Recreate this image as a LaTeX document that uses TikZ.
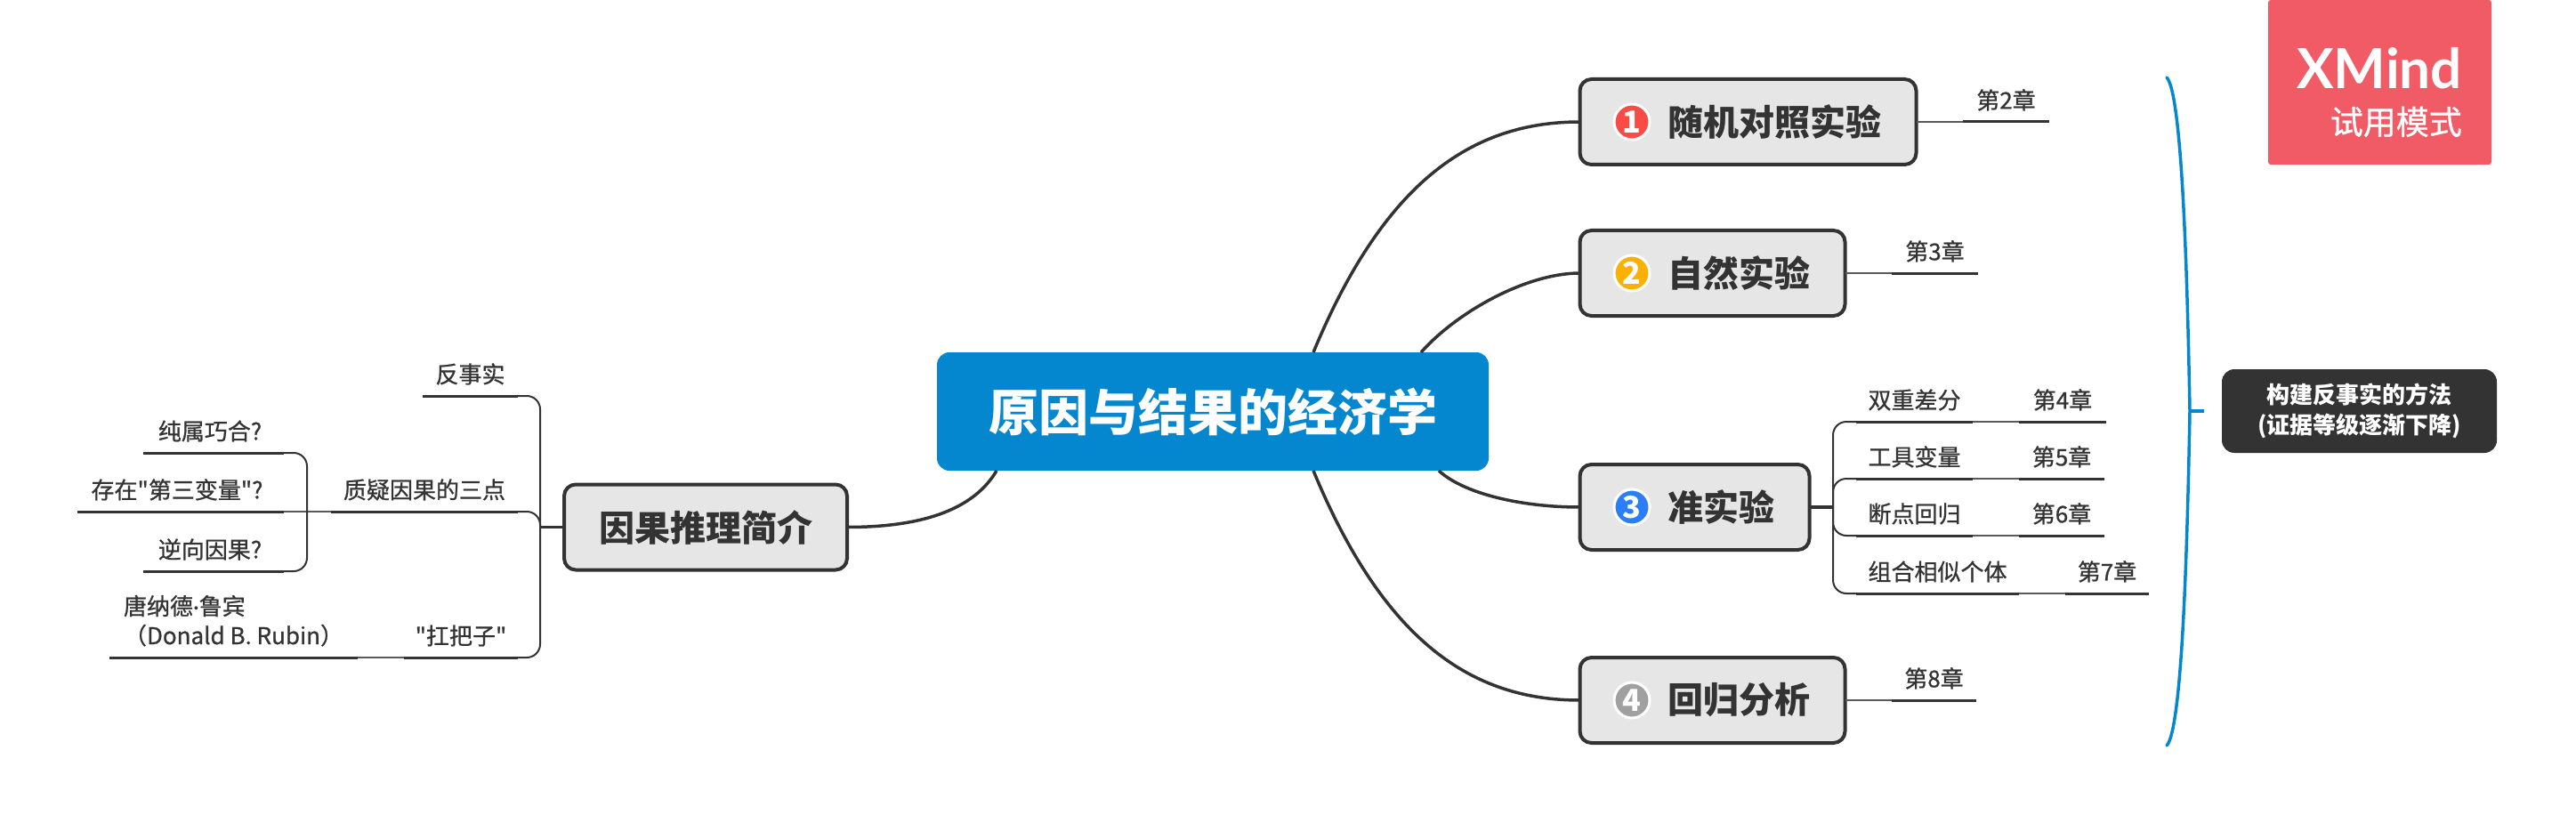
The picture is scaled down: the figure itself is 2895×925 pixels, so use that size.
\documentclass[tikz,border=0pt]{standalone}
\usepackage{fontspec}
\setmainfont[Ligatures=TeXOff,UprightFeatures={FakeBold=0.8}]{Noto Sans CJK SC}
\newfontfamily\logofont[Ligatures=TeXOff]{Lato}
\usetikzlibrary{positioning}
\definecolor{inkgray}{HTML}{333333}
\definecolor{boxgray}{HTML}{E6E6E6}
\definecolor{rootblue}{HTML}{0587D0}
\definecolor{trialred}{HTML}{F05B66}
\definecolor{twiggray}{HTML}{5A5A5A}
\definecolor{badgered}{HTML}{FB4B44}
\definecolor{badgeorange}{HTML}{FBB004}
\definecolor{badgeblue}{HTML}{2A7FF8}
\definecolor{badgegray}{HTML}{A0A0A0}
\newcommand{\fsz}[1]{\fontsize{#1}{#1}\selectfont}

\begin{document}
\begin{tikzpicture}[x=1pt,y=-1pt,text=inkgray,
    root node/.style={rectangle,rounded corners=14pt,fill=rootblue,text=white,font=\fsz{56}\bfseries,minimum height=133pt,inner xsep=58pt,inner ysep=0pt,outer sep=0pt},
    main node/.style={rectangle,rounded corners=13pt,draw=inkgray,line width=4pt,fill=boxgray,font=\fsz{40}\bfseries,minimum height=96pt,inner xsep=39pt,inner ysep=0pt,outer sep=0pt},
    badge/.style={circle,draw=white,line width=3pt,text=white,font=\fsz{34}\bfseries,minimum size=40pt,inner sep=0pt},
    leaf/.style={anchor=south,font=\fsz{26},inner xsep=0pt,inner ysep=12.5pt,outer sep=0pt},
    underline/.style={line width=3pt,draw=inkgray},
    trunk/.style={line width=3.5pt,draw=inkgray},
    stem/.style={line width=3.5pt,draw=inkgray},
    twig/.style={line width=2pt,draw=inkgray,rounded corners=15pt},
    link/.style={line width=2pt,draw=twiggray},
    bracket/.style={line width=3.5pt,draw=rootblue,line cap=round}]

    \useasboundingbox (0,0) rectangle (2895,925);

    % centre and main topics
    \node[root node] (root) at (1363,462.5) {原因与结果的经济学};
    \node[main node,anchor=east] (intro) at (952,592.5) {因果推理简介};
    \node[main node,anchor=west] (rct) at (1775.5,137) {\hspace*{60pt}随机对照实验};
    \node[main node,anchor=west] (nat) at (1775.5,307) {\hspace*{60pt}自然实验};
    \node[main node,anchor=west] (quasi) at (1775.5,570) {\hspace*{60pt}准实验};
    \node[main node,anchor=west] (reg) at (1775.5,787) {\hspace*{60pt}回归分析};

    \node[badge,fill=badgered] (b1) at (1834,137) {1};
    \node[badge,fill=badgeorange] (b2) at (1834,307) {2};
    \node[badge,fill=badgeblue] (b3) at (1834,570) {3};
    \node[badge,fill=badgegray] (b4) at (1834,787) {4};

    % left side
    \node[leaf,minimum width=107pt] (fact) at (528.5,445) {反事实};
    \node[leaf,minimum width=210pt] (why) at (477,575) {质疑因果的三点};
    \node[leaf,minimum width=128pt] (kick) at (518,739) {"扛把子"};
    \node[leaf,minimum width=158pt] (coin) at (240,509) {纯属巧合?\hspace*{8pt}};
    \node[leaf,minimum width=232pt] (third) at (203,575) {存在"第三变量"?\hspace*{8pt}};
    \node[leaf,minimum width=158pt] (back) at (240,642) {逆向因果?\hspace*{8pt}};
    \node[leaf,minimum width=279pt,align=left] (rubin) at (262.5,739) {唐纳德{\logofont·}鲁宾\\[7pt]（Donald B. Rubin）};

    % right side
    \node[leaf,minimum width=97pt] (ch2) at (2254.5,137) {第2章};
    \node[leaf,minimum width=97pt] (ch3) at (2174.5,307) {第3章};
    \node[leaf,minimum width=131pt] (did) at (2151.5,474) {双重差分};
    \node[leaf,minimum width=131pt] (iv) at (2151.5,538) {工具变量};
    \node[leaf,minimum width=131pt] (rd) at (2151.5,602) {断点回归};
    \node[leaf,minimum width=183pt] (match) at (2177.5,667) {组合相似个体};
    \node[leaf,minimum width=98pt] (ch4) at (2318,474) {第4章};
    \node[leaf,minimum width=96pt] (ch5) at (2317,538) {第5章};
    \node[leaf,minimum width=96pt] (ch6) at (2317,602) {第6章};
    \node[leaf,minimum width=94pt] (ch7) at (2368,667) {第7章};
    \node[leaf,minimum width=95pt] (ch8) at (2173.5,787) {第8章};

    % summary and watermark
    \node[rectangle,rounded corners=14pt,fill=inkgray,text=white,font=\fsz{26}\bfseries,minimum width=309pt,minimum height=94pt,align=center] (note) at (2651.5,462) {构建反事实的方法\\[8pt](证据等级逐渐下降)};
    \node[rectangle,rounded corners=3pt,fill=trialred,minimum width=251pt,minimum height=185pt,inner sep=0pt] (trial) at (2674.5,92.5) {};
    \node[anchor=east,text=white,font=\logofont\fsz{62}\bfseries,inner sep=0pt] (logo) at (2767,77) {XMind};
    \node[anchor=east,text=white,font=\fsz{37},inner sep=0pt] (mode) at (2767,137) {试用模式};

    \coordinate (jleft) at (607,592.5);
    \coordinate (jwhy) at (345,575);
    \coordinate (jquasi) at (2060,570);
    \coordinate (brtop) at (2435,87);
    \coordinate (brmid) at (2461,462);
    \coordinate (brbot) at (2435,838);

    % curves from the centre
    \draw[trunk] ([xshift=113pt]root.north) .. controls (1556,203) and (1655,137) .. (rct.west);
    \draw[trunk] ([xshift=234pt]root.north) .. controls (1637,351) and (1715,307) .. (nat.west);
    \draw[trunk] ([xshift=254pt]root.south) .. controls (1645,555) and (1710,570) .. (quasi.west);
    \draw[trunk] ([xshift=113pt]root.south) .. controls (1556,722) and (1655,787) .. (reg.west);
    \draw[trunk] ([xshift=-243pt]root.south) .. controls (1090,580) and (1020,592.5) .. (intro.east);

    % left branches
    \draw[stem] (intro.west) to (jleft);
    \draw[twig] (jleft) |- (fact.south east);
    \draw[twig] (jleft) |- (why.south east);
    \draw[twig] (jleft) |- (kick.south east);
    \draw[link] (why.south west) to (third.south east);
    \draw[link] (kick.south west) to (rubin.south east);
    \draw[twig] (jwhy) |- (coin.south east);
    \draw[twig] (jwhy) |- (back.south east);

    % right branches
    \draw[link] (rct.east) to (ch2.south west);
    \draw[link] (nat.east) to (ch3.south west);
    \draw[link] (reg.east) to (ch8.south west);
    \draw[stem] (quasi.east) to (jquasi);
    \draw[twig] (jquasi) |- (did.south west);
    \draw[twig] (jquasi) |- (iv.south west);
    \draw[twig] (jquasi) |- (rd.south west);
    \draw[twig] (jquasi) |- (match.south west);
    \draw[link] (did.south east) to (ch4.south west);
    \draw[link] (iv.south east) to (ch5.south west);
    \draw[link] (rd.south east) to (ch6.south west);
    \draw[link] (match.south east) to (ch7.south west);

    % underlines
    \draw[underline] (fact.south west) to (fact.south east);
    \draw[underline] (why.south west) to (why.south east);
    \draw[underline] (kick.south west) to (kick.south east);
    \draw[underline] (coin.south west) to (coin.south east);
    \draw[underline] (third.south west) to (third.south east);
    \draw[underline] (back.south west) to (back.south east);
    \draw[underline] (rubin.south west) to (rubin.south east);
    \draw[underline] (ch2.south west) to (ch2.south east);
    \draw[underline] (ch3.south west) to (ch3.south east);
    \draw[underline] (did.south west) to (did.south east);
    \draw[underline] (iv.south west) to (iv.south east);
    \draw[underline] (rd.south west) to (rd.south east);
    \draw[underline] (match.south west) to (match.south east);
    \draw[underline] (ch4.south west) to (ch4.south east);
    \draw[underline] (ch5.south west) to (ch5.south east);
    \draw[underline] (ch6.south west) to (ch6.south east);
    \draw[underline] (ch7.south west) to (ch7.south east);
    \draw[underline] (ch8.south west) to (ch8.south east);

    % blue bracket
    \draw[bracket] (brtop) .. controls (2452,105) and (2458,300) .. (brmid) .. controls (2458,625) and (2452,820) .. (brbot);
    \draw[bracket,line cap=butt] (brmid) to ([xshift=-20pt]note.west);

\end{tikzpicture}
\end{document}
